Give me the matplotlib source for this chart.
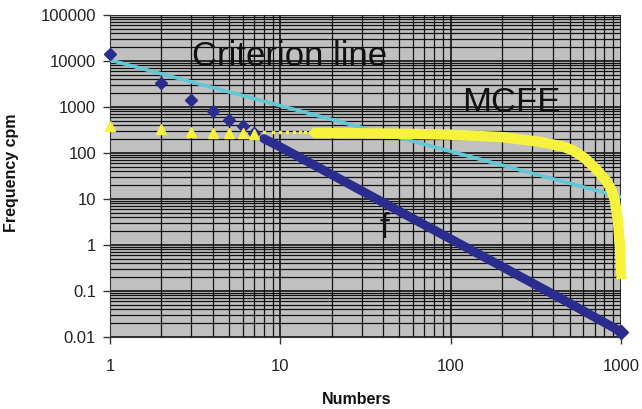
import matplotlib
matplotlib.use("Agg")
import matplotlib.pyplot as plt
from matplotlib.ticker import LogLocator, FixedLocator, NullFormatter

plt.rcParams['font.family'] = ['Liberation Sans', 'DejaVu Sans']

# ---- data ----
# f : individual diamonds for small numbers, dense run afterwards
f_n_points = [1, 2, 3, 4, 5, 6, 7]
f_points = [14000, 3400, 1450, 820, 520, 390, 270]
f_n_dense = [8, 10, 20, 50, 100, 200, 500, 1000]
f_dense = [205, 135, 34, 5.4, 1.35, 0.34, 0.054, 0.013]
f_n_end = [1000]
f_end = [0.013]

# Criterion line
crit_n = [1, 1000]
crit = [10500, 11]

# MCFE
mcfe_n_points = [1, 2, 3, 4, 5, 6, 7]
mcfe_points = [390, 327, 280, 278, 272, 268, 265]
mcfe_n_dots = [8, 9, 10, 11, 12, 13, 14, 15]
mcfe_dots = [285, 285, 285, 285, 285, 285, 285, 285]
mcfe_n_dense = [16, 30, 60, 100, 200, 333, 450, 520, 600, 653, 720, 818, 870, 916, 958, 985, 1000]
mcfe_dense = [272, 268, 260, 250, 222, 175, 140, 115, 82, 62, 43, 25, 17, 10, 3.5, 1.0, 0.25]
mcfe_n_end = [1000]
mcfe_end = [0.25]

x_ticks = [1, 10, 100, 1000]
x_ticklabels = ['1', '10', '100', '1000']
y_ticks = [0.01, 0.1, 1, 10, 100, 1000, 10000, 100000]
y_ticklabels = ['0.01', '0.1', '1', '10', '100', '1000', '10000', '100000']

NAVY = '#2B2D8E'
YELLOW = '#F7F23C'
CYAN = '#62C8D8'

fig = plt.figure(figsize=(6.42, 4.09), dpi=100)
ax = fig.add_axes([110 / 642, 1 - 337 / 409, (621 - 110) / 642, (337 - 15) / 409])
ax.set_facecolor('#C0C0C0')
ax.set_xscale('log')
ax.set_yscale('log')
ax.set_xlim(1, 1000)
ax.set_ylim(0.01, 100000)

# grid
ax.set_axisbelow(True)
ax.xaxis.set_major_locator(FixedLocator(x_ticks))
ax.yaxis.set_major_locator(FixedLocator(y_ticks))
ax.xaxis.set_minor_locator(LogLocator(base=10, subs=range(2, 10), numticks=20))
ax.yaxis.set_minor_locator(LogLocator(base=10, subs=range(2, 10), numticks=20))
ax.xaxis.set_minor_formatter(NullFormatter())
ax.yaxis.set_minor_formatter(NullFormatter())
ax.set_xticklabels(x_ticklabels)
ax.set_yticklabels(y_ticklabels)
ax.grid(which='major', color='#111111', linewidth=1.2)
ax.grid(which='minor', color='#111111', linewidth=0.9)
ax.tick_params(which='minor', length=0)
ax.tick_params(which='major', direction='out', length=5, width=1, color='#333333',
               labelsize=12, labelcolor='#222222')
ax.tick_params(axis='x', pad=11)
ax.tick_params(axis='y', pad=5)
for s in ['top', 'right']:
    ax.spines[s].set_visible(False)
ax.spines['left'].set_color('#333333')
ax.spines['bottom'].set_color('#333333')

# series
ax.plot(crit_n, crit, color=CYAN, linewidth=2.6, zorder=3)
ax.plot(f_n_dense, f_dense, color=NAVY, linewidth=6.5, solid_capstyle='round', zorder=4,
        clip_on=False)
ax.plot(f_n_points, f_points, linestyle='none', marker='D', markersize=6.5, color=NAVY,
        zorder=4, clip_on=False)
ax.plot(f_n_end, f_end, linestyle='none', marker='D', markersize=7, color=NAVY, zorder=4,
        clip_on=False)
ax.plot(mcfe_n_dense, mcfe_dense, color=YELLOW, linewidth=7.5, solid_capstyle='round',
        zorder=5, clip_on=False)
ax.plot(mcfe_n_dots, mcfe_dots, linestyle='none', marker='s', markersize=2, color=YELLOW,
        zorder=5)
ax.plot(mcfe_n_points, mcfe_points, linestyle='none', marker='^', markersize=7, color=YELLOW,
        zorder=5, clip_on=False)
ax.plot(mcfe_n_end, mcfe_end, linestyle='none', marker='^', markersize=7, color=YELLOW,
        zorder=5, clip_on=False)

# annotations
fig.text(192 / 642, 1 - 56 / 409, 'Criterion line', fontsize=25, color='#111111',
         ha='left', va='center')
fig.text(511 / 642, 1 - 102 / 409, 'MCFE', fontsize=25, color='#111111',
         ha='center', va='center')
fig.text(384 / 642, 1 - 229 / 409, 'f', fontsize=25, color='#111111',
         ha='center', va='center')

fig.text(12 / 642, 1 - 173 / 409, 'Frequency cpm', fontsize=11.5, fontweight='bold',
         rotation=90, ha='center', va='center', color='#111111')
fig.text(357 / 642, 1 - 400 / 409, 'Numbers', fontsize=11.5, fontweight='bold',
         ha='center', va='center', color='#111111')

fig.savefig('out.png', dpi=100, facecolor='white')
